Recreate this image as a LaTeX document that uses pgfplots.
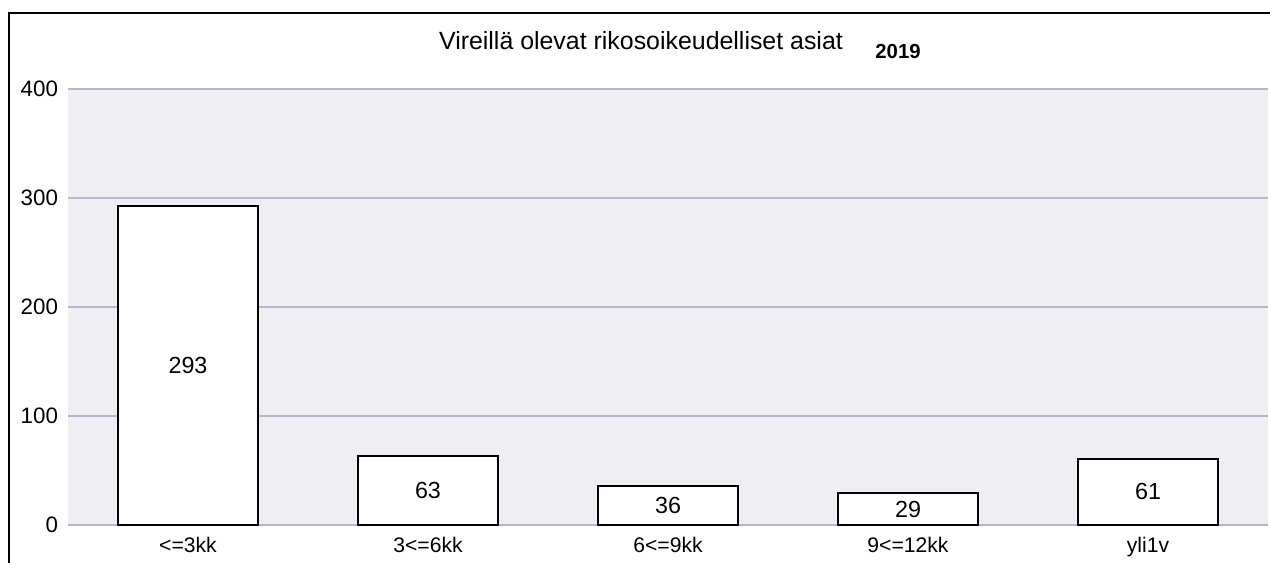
\documentclass[border=0pt]{standalone}
\usepackage{pgfplots}
\pgfplotsset{compat=1.18}
\usepackage{fontspec}
\setmainfont{Liberation Sans}
\definecolor{plotbg}{RGB}{238,238,243}
\definecolor{gridc}{RGB}{182,182,204}
\newcommand{\lbl}{\fontsize{10.6}{12}\selectfont}
\newcommand{\vlbl}{\fontsize{11.7}{13}\selectfont}
\begin{document}
\begin{tikzpicture}
\begin{axis}[
  name=main,
  width=600bp, height=218bp,
  scale only axis,
  ybar, bar width=70bp,
  xmin=-0.5, xmax=4.5,
  ymin=0, ymax=400,
  xtick=data,
  xticklabels={<=3kk, 3<=6kk, 6<=9kk, 9<=12kk, yli1v},
  ytick={0,100,200,300,400},
  /pgf/number format/assume math mode=true,
  ticklabel style={font=\lbl},
  yticklabel style={xshift=-1.5bp, font=\fontsize{11.2}{13}\selectfont},
  xticklabel style={yshift=-2.5bp},
  major tick length=0pt,
  axis line style={draw=none},
  axis background/.style={fill=plotbg},
  ymajorgrids=true,
  grid style={gridc, line width=1bp},
  clip=false,
  visualization depends on={y \as \rawy},
  nodes near coords={\pgfmathprintnumber{\rawy}},
  every node near coord/.append style={font=\vlbl, anchor=center,
    yshift={-0.2725bp*\rawy}},
]
\addplot[fill=white, draw=black, line width=1bp] coordinates {
  (0,293) (1,63) (2,36) (3,29) (4,61)};
\node[font=\fontsize{12.5}{14}\selectfont] at ([yshift=24bp]rel axis cs:0.4775,1) {Vireillä olevat rikosoikeudelliset asiat};
\node[font=\fontsize{10.2}{12}\selectfont\bfseries] at ([yshift=18.5bp]rel axis cs:0.6917,1) {2019};
\end{axis}
\pgfresetboundingbox
\path[use as bounding box] ([shift={(-34bp,-19bp)}]main.south west) rectangle ([shift={(1bp,44.5bp)}]main.north east);
\draw[line width=1bp] ([shift={(-29.25bp,-19bp)}]main.south west) -- ([shift={(-29.25bp,38bp)}]main.north west) -- ([shift={(1bp,38bp)}]main.north east);
\end{tikzpicture}
\end{document}
